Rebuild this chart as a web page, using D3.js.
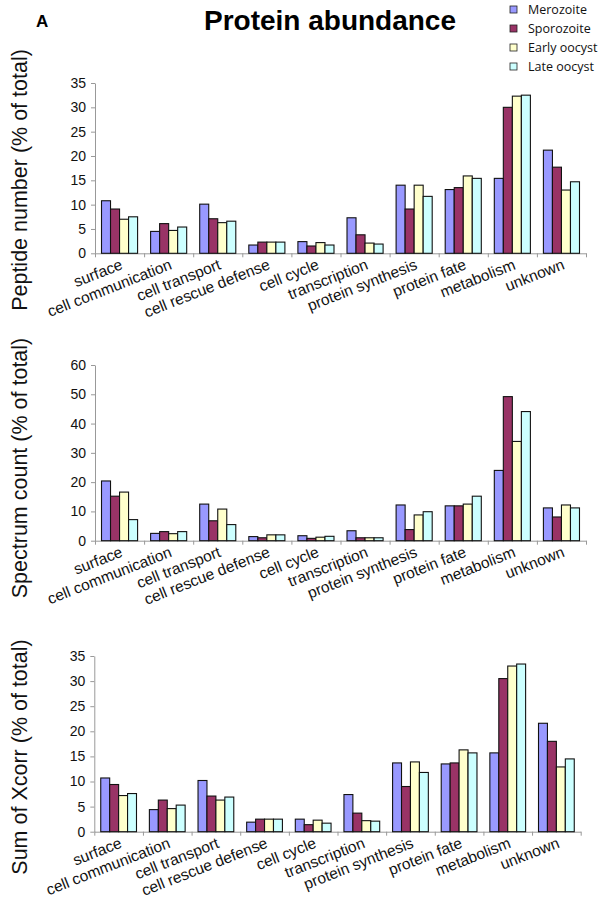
<!DOCTYPE html>
<html>
<head>
<meta charset="utf-8">
<script src="https://cdn.jsdelivr.net/npm/d3@7"></script>
<style>
  html, body { margin: 0; padding: 0; background: #fff; }
  svg { display: block; }
</style>
</head>
<body>
<svg id="chart" width="604" height="903"></svg>
<script>
const categories = ["surface", "cell communication", "cell transport", "cell rescue defense", "cell cycle", "transcription", "protein synthesis", "protein fate", "metabolism", "unknown"];
const seriesNames = ["Merozoite", "Sporozoite", "Early oocyst", "Late oocyst"];
const seriesColors = ["#9999ff", "#993366", "#ffffcc", "#ccffff"];

const peptideMerozoite  = [10.8, 4.5, 10.1, 1.7, 2.4, 7.3, 14.0, 13.1, 15.4, 21.2];
const peptideSporozoite = [9.1, 6.1, 7.1, 2.3, 1.5, 3.8, 9.1, 13.5, 30.0, 17.7];
const peptideEarly      = [7.0, 4.7, 6.3, 2.3, 2.2, 2.1, 14.0, 15.9, 32.3, 13.0];
const peptideLate       = [7.5, 5.4, 6.6, 2.3, 1.7, 1.9, 11.7, 15.4, 32.5, 14.7];

const spectrumMerozoite  = [20.4, 2.5, 12.5, 1.4, 1.7, 3.4, 12.2, 11.9, 24.0, 11.2];
const spectrumSporozoite = [15.2, 3.1, 6.8, 1.0, 0.8, 1.0, 3.8, 11.9, 49.2, 8.1];
const spectrumEarly      = [16.6, 2.4, 10.8, 2.0, 1.2, 1.0, 8.8, 12.5, 33.9, 12.2];
const spectrumLate       = [7.2, 3.1, 5.5, 2.0, 1.5, 1.0, 9.9, 15.2, 44.1, 11.2];

const xcorrMerozoite  = [10.7, 4.4, 10.2, 1.9, 2.5, 7.4, 13.7, 13.5, 15.7, 21.6];
const xcorrSporozoite = [9.4, 6.3, 7.1, 2.5, 1.4, 3.7, 9.0, 13.7, 30.5, 18.0];
const xcorrEarly      = [7.2, 4.6, 6.3, 2.5, 2.3, 2.2, 13.9, 16.3, 33.0, 12.9];
const xcorrLate       = [7.6, 5.3, 6.9, 2.5, 1.7, 2.1, 11.8, 15.7, 33.4, 14.5];

const peptideTicks  = [0, 5, 10, 15, 20, 25, 30, 35];
const spectrumTicks = [0, 10, 20, 30, 40, 50, 60];
const xcorrTicks    = [0, 5, 10, 15, 20, 25, 30, 35];

const titleText = "Protein abundance";
const panelLabel = "A";
const yTitles = ["Peptide number (% of total)", "Spectrum count (% of total)", "Sum of Xcorr (% of total)"];

const svg = d3.select("#chart");
const FONT = "'Liberation Sans', Arial, Helvetica, sans-serif";

// Title and panel letter
svg.append("text").attr("x", 330).attr("y", 30).attr("text-anchor", "middle")
  .attr("font-family", FONT).attr("font-weight", "bold").attr("font-size", 28).text(titleText);
svg.append("text").attr("x", 36).attr("y", 27)
  .attr("font-family", FONT).attr("font-weight", "bold").attr("font-size", 17).text(panelLabel);

// Legend
const legend = svg.append("g");
seriesNames.forEach((name, i) => {
  const cy = 9.5 + i * 19;
  legend.append("rect").attr("x", 510).attr("y", cy - 3.5).attr("width", 7).attr("height", 7)
    .attr("fill", seriesColors[i]).attr("stroke", "#222").attr("stroke-width", 0.8);
  legend.append("text").attr("x", 528).attr("y", cy).attr("dy", "0.35em")
    .attr("font-family", "'Open Sans', sans-serif").attr("font-size", 12.5).attr("fill", "#111").text(name);
});

const panels = [
  { series: [peptideMerozoite, peptideSporozoite, peptideEarly, peptideLate], ticks: peptideTicks,
    left: 95, right: 586, top: 83, bottom: 253.3, title: yTitles[0], titleY: 180 },
  { series: [spectrumMerozoite, spectrumSporozoite, spectrumEarly, spectrumLate], ticks: spectrumTicks,
    left: 95, right: 586, top: 365, bottom: 540.7, title: yTitles[1], titleY: 468 },
  { series: [xcorrMerozoite, xcorrSporozoite, xcorrEarly, xcorrLate], ticks: xcorrTicks,
    left: 94.3, right: 580.7, top: 656, bottom: 831.7, title: yTitles[2], titleY: 757 }
];

panels.forEach(p => {
  const g = svg.append("g");
  const x = d3.scaleBand().domain(categories).range([p.left, p.right]).paddingInner(0).paddingOuter(0);
  const xLin = d3.scaleLinear().domain([0, categories.length]).range([p.left, p.right]);
  const y = d3.scaleLinear().domain([0, d3.max(p.ticks)]).range([p.bottom, p.top]);
  const groupW = x.bandwidth() * 0.735;
  const xs = d3.scaleBand().domain(seriesNames).range([0, groupW]).padding(0);

  // Y axis
  const yAxis = g.append("g").attr("transform", `translate(${p.left},0)`)
    .call(d3.axisLeft(y).tickValues(p.ticks).tickSize(4).tickPadding(5).tickSizeOuter(0));
  yAxis.selectAll("text").attr("font-family", FONT).attr("font-size", 14).attr("fill", "#111");
  yAxis.selectAll("line, path").attr("stroke", "#999");

  // X axis
  const xAxis = g.append("g").attr("transform", `translate(0,${p.bottom})`)
    .call(d3.axisBottom(xLin).tickValues(d3.range(0, categories.length + 1)).tickSize(4).tickSizeOuter(0).tickFormat(""));
  xAxis.selectAll("line, path").attr("stroke", "#999");

  // Bars
  p.series.forEach((vals, si) => {
    g.append("g").selectAll("rect").data(vals).join("rect")
      .attr("x", (d, i) => x(categories[i]) + (x.bandwidth() - groupW) / 2 + xs(seriesNames[si]))
      .attr("y", d => y(d))
      .attr("width", xs.bandwidth())
      .attr("height", d => y(0) - y(d))
      .attr("fill", seriesColors[si])
      .attr("stroke", "#111").attr("stroke-width", 1.1);
  });

  // Category labels
  g.append("g").selectAll("text").data(categories).join("text")
    .attr("transform", d => `translate(${x(d) + x.bandwidth() / 2},${p.bottom + 5}) rotate(-21.5)`)
    .attr("text-anchor", "end").attr("dy", "0.72em")
    .attr("font-family", FONT).attr("font-size", 15.5).attr("fill", "#111")
    .text(d => d);

  // Y title
  svg.append("text").attr("transform", `translate(27,${p.titleY}) rotate(-90)`)
    .attr("text-anchor", "middle").attr("font-family", FONT).attr("font-size", 21.5).attr("fill", "#111")
    .text(p.title);
});
</script>
</body>
</html>
